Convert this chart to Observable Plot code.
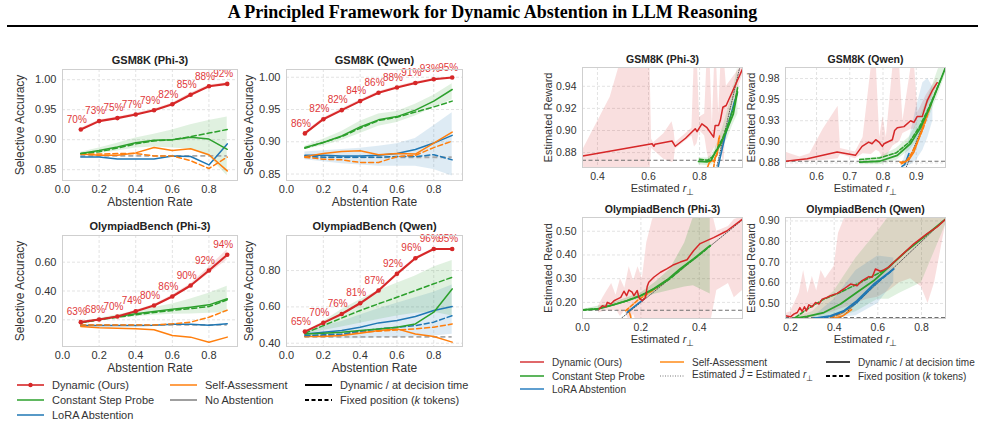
<!DOCTYPE html>
<html><head><meta charset="utf-8">
<script src="https://cdn.jsdelivr.net/npm/d3@7"></script>
<script src="https://cdn.jsdelivr.net/npm/@observablehq/plot@0.6"></script>
<style>
body{margin:0;background:#fff;width:985px;height:424px;overflow:hidden;position:relative;font-family:"Liberation Sans",Arial,sans-serif;}
#title{position:absolute;left:0;width:985px;top:2px;text-align:center;font-family:"Liberation Serif","Times New Roman",serif;font-weight:bold;font-size:18px;color:#000;}
#rule{position:absolute;left:7px;width:971px;top:25px;height:2px;background:#000;}
.panel{position:absolute;}
.leg{position:absolute;display:flex;align-items:center;white-space:nowrap;color:#333;}
.leg svg{margin-right:8px;}
</style></head><body>
<div id="title">A Principled Framework for Dynamic Abstention in LLM Reasoning</div>
<div id="rule"></div>
<div id="root"></div>
<script>
// ---------- shared ----------
const abst = [0.1,0.2,0.3,0.4,0.5,0.6,0.7,0.8,0.9];
const xTicksL = [0,0.2,0.4,0.6,0.8];

// ---------- Panel 1: GSM8K (Phi-3), selective accuracy ----------
const gpDyn = [0.917,0.931,0.936,0.942,0.949,0.959,0.975,0.989,0.993];
const gpDynLo = [0.915,0.929,0.934,0.940,0.947,0.957,0.972,0.987,0.991];
const gpDynHi = [0.919,0.933,0.938,0.944,0.951,0.961,0.978,0.991,0.995];
const gpLabels = ["70%","73%","75%","77%","79%","82%","85%","88%","92%"];
const gpCspDyn = [0.877,0.882,0.888,0.895,0.899,0.900,0.904,0.901,0.884];
const gpCspFix = [0.877,0.880,0.886,0.893,0.898,0.900,0.905,0.911,0.917];
const gpCspLo = [0.875,0.877,0.881,0.886,0.888,0.886,0.884,0.872,0.840];
const gpCspHi = [0.879,0.886,0.894,0.903,0.909,0.916,0.925,0.932,0.938];
const gpSaDyn = [0.876,0.874,0.874,0.878,0.887,0.882,0.885,0.875,0.848];
const gpSaFix = [0.876,0.876,0.877,0.877,0.873,0.873,0.865,0.852,0.871];
const gpLoraDyn = [0.871,0.871,0.868,0.868,0.868,0.873,0.872,0.858,0.893];
const gpNone = 0.873;

// ---------- Panel 2: GSM8K (Qwen) ----------
const gqDyn = [0.913,0.935,0.949,0.963,0.976,0.984,0.991,0.997,0.9995];
const gqDynLo = [0.911,0.933,0.947,0.961,0.974,0.982,0.989,0.996,0.999];
const gqDynHi = [0.915,0.937,0.951,0.965,0.978,0.986,0.993,0.998,1.0];
const gqLabels = ["86%","82%","82%","84%","86%","88%","91%","93%","95%"];
const gqCspDyn = [0.891,0.899,0.909,0.923,0.934,0.939,0.949,0.963,0.981];
const gqCspFix = [0.890,0.899,0.908,0.921,0.933,0.938,0.946,0.954,0.963];
const gqCspLo = [0.888,0.894,0.902,0.913,0.924,0.930,0.940,0.953,0.965];
const gqCspHi = [0.893,0.904,0.916,0.932,0.943,0.947,0.958,0.972,0.990];
const gqSaDyn = [0.877,0.882,0.885,0.886,0.880,0.882,0.881,0.898,0.915];
const gqSaFix = [0.876,0.873,0.872,0.868,0.868,0.877,0.879,0.891,0.901];
const gqLoraDyn = [0.879,0.879,0.878,0.878,0.879,0.882,0.888,0.898,0.910];
const gqLoraFix = [0.878,0.876,0.876,0.876,0.876,0.877,0.877,0.880,0.872];
const gqLoraLo = [0.872,0.869,0.866,0.864,0.862,0.862,0.862,0.857,0.847];
const gqLoraHi = [0.884,0.886,0.888,0.890,0.893,0.897,0.905,0.925,0.945];
const gqNone = 0.876;

// ---------- Panel 3: OlympiadBench (Phi-3) ----------
const opDyn = [0.184,0.202,0.223,0.260,0.299,0.362,0.438,0.542,0.651];
const opDynLo = [0.180,0.198,0.218,0.254,0.292,0.352,0.425,0.520,0.615];
const opDynHi = [0.188,0.206,0.228,0.266,0.306,0.372,0.451,0.564,0.687];
const opLabels = ["63%","68%","70%","74%","80%","86%","90%","92%","94%"];
const opCspDyn = [0.179,0.202,0.223,0.242,0.258,0.274,0.288,0.304,0.346];
const opCspFix = [0.179,0.200,0.218,0.235,0.251,0.265,0.278,0.292,0.339];
const opCspLo = [0.175,0.193,0.208,0.222,0.232,0.238,0.240,0.245,0.250];
const opCspHi = [0.184,0.210,0.236,0.258,0.285,0.310,0.345,0.385,0.433];
const opSaDyn = [0.154,0.145,0.142,0.138,0.131,0.091,0.080,0.045,0.080];
const opSaFix = [0.165,0.165,0.165,0.165,0.165,0.172,0.184,0.218,0.267];
const opLoraDyn = [0.161,0.161,0.161,0.161,0.162,0.170,0.170,0.163,0.172];
const opNone = 0.165;

// ---------- Panel 4: OlympiadBench (Qwen) ----------
const oqDyn = [0.464,0.512,0.561,0.620,0.690,0.782,0.868,0.919,0.919];
const oqDynLo = [0.461,0.509,0.558,0.616,0.686,0.777,0.863,0.916,0.916];
const oqDynHi = [0.467,0.515,0.564,0.624,0.694,0.787,0.873,0.922,0.922];
const oqLabels = ["65%","70%","76%","81%","87%","92%","96%","96%","95%"];
const oqCspDyn = [0.451,0.455,0.461,0.470,0.479,0.488,0.506,0.571,0.699];
const oqCspFix = [0.455,0.497,0.539,0.580,0.617,0.653,0.690,0.727,0.763];
const oqCspLo = [0.445,0.470,0.490,0.510,0.530,0.550,0.565,0.570,0.550];
const oqCspHi = [0.462,0.520,0.585,0.640,0.690,0.730,0.770,0.820,0.855];
const oqLoraDyn = [0.451,0.461,0.470,0.488,0.512,0.525,0.547,0.580,0.602];
const oqLoraFix = [0.442,0.446,0.451,0.466,0.479,0.488,0.497,0.516,0.552];
const oqLoraLo = [0.440,0.430,0.425,0.425,0.430,0.430,0.435,0.440,0.450];
const oqLoraHi = [0.462,0.495,0.520,0.555,0.590,0.620,0.650,0.680,0.720];
const oqSaDyn = [0.437,0.437,0.442,0.455,0.470,0.479,0.451,0.437,0.406];
const oqSaFix = [0.437,0.442,0.448,0.461,0.466,0.473,0.479,0.488,0.506];
const oqNone = 0.435;

// ---------- Panel 5: GSM8K (Phi-3), estimated reward vs r_perp ----------
const rgpDyn = [[0.342,0.877],[0.614,0.888],[0.621,0.8857],[0.625,0.8875],[0.692,0.8905],[0.705,0.8857],[0.745,0.893],[0.783,0.9016],[0.790,0.899],[0.809,0.906],[0.829,0.9025],[0.855,0.894],[0.861,0.9046],[0.874,0.9046],[0.881,0.909],[0.891,0.921],[0.904,0.9226],[0.968,0.9556]];
const rgpDynBand = [[0.342,0.872,0.882],[0.36,0.850,0.890],[0.45,0.850,0.930],[0.50,0.850,0.97],[0.58,0.850,0.97],[0.605,0.860,0.97],[0.612,0.884,0.892],[0.62,0.882,0.889],[0.66,0.874,0.897],[0.692,0.871,0.908],[0.70,0.872,0.900],[0.705,0.883,0.889],[0.77,0.895,0.902],[0.78,0.885,0.97],[0.79,0.888,0.97],[0.80,0.900,0.912],[0.82,0.895,0.915],[0.83,0.880,0.97],[0.84,0.870,0.97],[0.85,0.880,0.905],[0.86,0.885,0.97],[0.865,0.880,0.97],[0.875,0.895,0.915],[0.885,0.88,0.97],[0.895,0.87,0.97],[0.905,0.905,0.94],[0.968,0.950,0.96]];
const rgpCspDyn = [[0.796,0.872],[0.829,0.8716],[0.845,0.873],[0.861,0.880],[0.88,0.8866],[0.906,0.900],[0.932,0.915],[0.948,0.935]];
const rgpCspFix = [[0.80,0.874],[0.83,0.873],[0.85,0.876],[0.87,0.884],[0.89,0.893],[0.91,0.905],[0.935,0.922],[0.95,0.94]];
const rgpCspBand = [[0.796,0.869,0.875],[0.83,0.868,0.875],[0.85,0.869,0.878],[0.87,0.875,0.889],[0.89,0.885,0.902],[0.91,0.893,0.918],[0.93,0.905,0.935],[0.95,0.915,0.958]];
const rgpSaDyn = [[0.83,0.866],[0.838,0.871],[0.848,0.873],[0.856,0.872],[0.862,0.876],[0.868,0.878],[0.875,0.893]];
const rgpSaFix = [[0.855,0.866],[0.86,0.875],[0.87,0.880],[0.878,0.895]];
const rgpLoraDyn = [[0.872,0.866],[0.88,0.875],[0.90,0.895],[0.92,0.912],[0.935,0.925],[0.948,0.934]];
const rgpIdent = [0.866,0.957];
const rgpNone = 0.873;

// ---------- Panel 6: GSM8K (Qwen), estimated reward ----------
const rgqDyn = [[0.507,0.877],[0.572,0.880],[0.662,0.888],[0.717,0.884],[0.737,0.8946],[0.757,0.8997],[0.767,0.8977],[0.778,0.9025],[0.788,0.8997],[0.798,0.8946],[0.803,0.8977],[0.828,0.9025],[0.835,0.9134],[0.843,0.9166],[0.863,0.918],[0.883,0.925],[0.893,0.923],[0.903,0.930],[0.918,0.930],[0.933,0.9487],[0.948,0.9605],[0.963,0.970]];
const rgqDynBand = [[0.507,0.877,0.888],[0.52,0.876,0.886],[0.55,0.876,0.882],[0.58,0.877,0.886],[0.62,0.878,0.915],[0.665,0.880,0.942],[0.672,0.885,0.892],[0.717,0.880,0.888],[0.74,0.886,0.905],[0.765,0.885,0.99],[0.78,0.890,0.99],[0.79,0.888,0.905],[0.80,0.880,0.93],[0.81,0.882,0.905],[0.83,0.895,0.99],[0.85,0.900,0.99],[0.86,0.910,0.925],[0.885,0.915,0.99],[0.895,0.915,0.99],[0.905,0.925,0.935],[0.93,0.940,0.955],[0.963,0.965,0.975]];
const rgqCspDyn = [[0.73,0.876],[0.79,0.877],[0.843,0.884],[0.883,0.898],[0.913,0.917],[0.943,0.943],[0.988,0.988]];
const rgqCspFix = [[0.73,0.879],[0.79,0.881],[0.84,0.887],[0.88,0.900],[0.91,0.918],[0.94,0.942],[0.975,0.975]];
const rgqCspBand = [[0.73,0.873,0.880],[0.79,0.873,0.882],[0.84,0.878,0.892],[0.88,0.890,0.906],[0.91,0.905,0.928],[0.94,0.930,0.957],[0.97,0.960,0.99],[0.988,0.98,0.99]];
const rgqSaDyn = [[0.851,0.876],[0.865,0.876],[0.878,0.879],[0.893,0.888],[0.913,0.9095],[0.943,0.945]];
const rgqSaFix = [[0.855,0.874],[0.87,0.877],[0.885,0.886],[0.90,0.897],[0.92,0.915],[0.945,0.945]];
const rgqLoraDyn = [[0.857,0.871],[0.865,0.873],[0.872,0.880],[0.878,0.886]];
const rgqLoraBand = [[0.86,0.870,0.875],[0.88,0.872,0.905],[0.90,0.878,0.94],[0.92,0.89,0.97],[0.935,0.905,0.975],[0.95,0.925,0.965]];
const rgqIdent = [0.87,0.988];
const rgqNone = 0.877;
const rgqYTicks = [0.875,0.9,0.925,0.95,0.975];
const rgqYLabels = ["0.88","0.90","0.93","0.95","0.98"];

// ---------- Panel 7: OlympiadBench (Phi-3), estimated reward ----------
const ropDyn = [[0.057,0.172],[0.068,0.186],[0.0795,0.182],[0.085,0.200],[0.097,0.193],[0.108,0.207],[0.119,0.214],[0.131,0.221],[0.142,0.247],[0.151,0.228],[0.159,0.252],[0.170,0.243],[0.176,0.228],[0.1875,0.250],[0.193,0.221],[0.2045,0.207],[0.216,0.221],[0.2216,0.267],[0.227,0.285],[0.244,0.306],[0.267,0.327],[0.290,0.342],[0.3125,0.359],[0.335,0.370],[0.358,0.380],[0.381,0.419],[0.403,0.448],[0.449,0.473],[0.494,0.501],[0.548,0.551]];
const ropDynBand = [[0.055,0.155,0.185],[0.07,0.160,0.22],[0.085,0.165,0.25],[0.10,0.160,0.28],[0.115,0.170,0.23],[0.13,0.140,0.30],[0.145,0.165,0.26],[0.16,0.12,0.35],[0.175,0.15,0.29],[0.19,0.10,0.35],[0.205,0.12,0.30],[0.22,0.10,0.45],[0.24,0.10,0.55],[0.27,0.10,0.60],[0.30,0.10,0.60],[0.35,0.10,0.60],[0.40,0.10,0.60],[0.44,0.12,0.60],[0.46,0.25,0.50],[0.50,0.28,0.52],[0.52,0.22,0.55],[0.548,0.25,0.56]];
const ropCspDyn = [[0,0.168],[0.051,0.172],[0.108,0.19],[0.153,0.207],[0.199,0.228],[0.244,0.257],[0.29,0.295],[0.335,0.342],[0.381,0.384],[0.4375,0.44]];
const ropCspFix = [[0,0.168],[0.05,0.173],[0.1,0.188],[0.15,0.206],[0.2,0.229],[0.25,0.26],[0.3,0.30],[0.35,0.352],[0.4,0.40],[0.4375,0.438]];
const ropCspBand = [[0,0.166,0.170],[0.1,0.185,0.196],[0.2,0.215,0.24],[0.25,0.235,0.285],[0.3,0.25,0.34],[0.35,0.265,0.45],[0.38,0.27,0.56],[0.4375,0.235,0.56]];
const ropSaDyn = [[0.155,0.168],[0.16,0.160],[0.165,0.14],[0.168,0.12]];
const ropSaFix = [[0.148,0.165],[0.19,0.21],[0.24,0.25],[0.29,0.295]];
const ropLoraDyn = [[0.153,0.158],[0.175,0.18],[0.21,0.214]];
const ropIdent = [0.13,0.55];
const ropNone = 0.167;

// ---------- Panel 8: OlympiadBench (Qwen), estimated reward ----------
const roqDyn = [[0.177,0.440],[0.200,0.435],[0.215,0.448],[0.231,0.456],[0.243,0.480],[0.253,0.461],[0.264,0.484],[0.273,0.464],[0.284,0.493],[0.299,0.484],[0.3145,0.505],[0.330,0.497],[0.345,0.521],[0.360,0.526],[0.383,0.537],[0.414,0.549],[0.444,0.570],[0.475,0.594],[0.505,0.586],[0.528,0.611],[0.559,0.630],[0.574,0.627],[0.589,0.667],[0.612,0.656],[0.627,0.663],[0.650,0.676],[0.673,0.700],[0.719,0.744],[0.765,0.789],[0.826,0.838],[0.872,0.871],[0.910,0.908]];
const roqDynBand = [[0.177,0.43,0.45],[0.20,0.43,0.46],[0.24,0.43,0.55],[0.26,0.43,0.66],[0.28,0.43,0.55],[0.30,0.43,0.63],[0.32,0.44,0.56],[0.34,0.44,0.66],[0.36,0.45,0.62],[0.40,0.46,0.68],[0.42,0.47,0.84],[0.45,0.48,0.92],[0.50,0.50,0.92],[0.55,0.52,0.92],[0.60,0.53,0.92],[0.65,0.56,0.92],[0.70,0.60,0.92],[0.75,0.62,0.92],[0.80,0.58,0.92],[0.83,0.50,0.92],[0.86,0.60,0.92],[0.91,0.88,0.92]];
const roqCspDyn = [[0.215,0.428],[0.276,0.437],[0.353,0.456],[0.429,0.497],[0.505,0.554],[0.582,0.611],[0.658,0.684],[0.734,0.757],[0.811,0.822],[0.910,0.908]];
const roqCspFix = [[0.223,0.432],[0.276,0.472],[0.353,0.521],[0.429,0.554],[0.505,0.594],[0.582,0.635],[0.627,0.659]];
const roqCspBand = [[0.215,0.425,0.432],[0.3,0.425,0.46],[0.4,0.43,0.56],[0.5,0.46,0.72],[0.6,0.52,0.85],[0.65,0.52,0.92],[0.7,0.55,0.92],[0.8,0.60,0.92],[0.91,0.88,0.92]];
const roqLoraDyn = [[0.307,0.428],[0.383,0.44],[0.444,0.464],[0.505,0.513],[0.582,0.594],[0.673,0.667]];
const roqLoraFix = [[0.30,0.427],[0.38,0.435],[0.44,0.458],[0.50,0.500],[0.58,0.585],[0.66,0.655]];
const roqLoraBand = [[0.30,0.425,0.432],[0.4,0.43,0.52],[0.5,0.44,0.66],[0.6,0.50,0.73],[0.673,0.60,0.72]];
const roqSaDyn = [[0.40,0.428],[0.44,0.44],[0.48,0.47]];
const roqSaFix = [[0.383,0.432],[0.429,0.448],[0.475,0.48],[0.505,0.513]];
const roqIdent = [0.43,0.91];
const roqNone = 0.432;

// ---------- legend labels ----------
const legLeftLabels = ["Dynamic (Ours)","Constant Step Probe","LoRA Abstention","Self-Assessment","No Abstention","Dynamic / at decision time","Fixed position (<i>k</i> tokens)"];
const legRightLabels = ["Dynamic (Ours)","Constant Step Probe","LoRA Abstention","Self-Assessment","Estimated <i>Ĵ</i> = Estimated <i>r</i><sub style='font-size:8px'>⊥</sub>","Dynamic / at decision time","Fixed position (<i>k</i> tokens)"];

// ---------- styling ----------
const C = {red:"#d62728", green:"#2ca02c", orange:"#ff7f0e", blue:"#1f77b4", gray:"#7f7f7f"};
const gridCol = "#e3e3e3", frameCol = "#cfcfcf", txt = "#333";
const FONT = "'Liberation Sans', Arial, sans-serif";
const root = document.getElementById("root");

function place(svg, left, top) {
  const d = document.createElement("div");
  d.className = "panel"; d.style.left = left + "px"; d.style.top = top + "px";
  d.appendChild(svg); root.appendChild(d);
}
const tidy = (xs, ys) => xs.map((x, i) => ({x, y: ys[i]}));
const band = (xs, lo, hi) => xs.map((x, i) => ({x, lo: lo[i], hi: hi[i]}));

function leftPanel(o) {
  const marks = [
    Plot.gridX(xTicksL, {stroke: gridCol, strokeOpacity: 1, strokeDasharray: "3,2"}),
    Plot.gridY(o.yTicks, {stroke: gridCol, strokeOpacity: 1, strokeDasharray: "3,2"})
  ];
  for (const b of o.bands)
    marks.push(Plot.areaY(band(abst, b.lo, b.hi), {x: "x", y1: "lo", y2: "hi", fill: b.color, fillOpacity: 0.15, clip: true}));
  marks.push(Plot.ruleY([o.none], {x1: abst[0], x2: abst[abst.length - 1], stroke: "#a8a8a8", strokeWidth: 1.8, strokeDasharray: "5,3"}));
  for (const s of o.series)
    marks.push(Plot.line(tidy(abst, s.y), {x: "x", y: "y", stroke: s.color, strokeWidth: 1.5, strokeDasharray: s.dash ? "5,3" : undefined, clip: true}));
  const dyn = tidy(abst, o.dyn).map((d, i) => ({...d, t: o.labels[i]}));
  marks.push(Plot.line(dyn, {x: "x", y: "y", stroke: C.red, strokeWidth: 2.1}));
  marks.push(Plot.dot(dyn, {x: "x", y: "y", fill: C.red, r: 2.3}));
  marks.push(Plot.text(dyn, {x: "x", y: "y", text: "t", dx: -4, dy: -10, fill: "#e0383a", fontSize: 10}));
  marks.push(Plot.frame({stroke: frameCol}));
  marks.push(Plot.axisX(xTicksL, {tickSize: 0, tickPadding: 5, tickFormat: d3.format(".1f"), label: null, fontSize: 11}));
  marks.push(Plot.axisY(o.yTicks, {tickSize: 0, tickPadding: 6, tickFormat: d3.format(".2f"), label: null, fontSize: 11}));
  marks.push(Plot.text([o.title], {frameAnchor: "top", dy: -13, fontWeight: "bold", fontSize: 11, fill: "#222"}));
  marks.push(Plot.text(["Abstention Rate"], {frameAnchor: "bottom", dy: 25, fontSize: 12, fill: txt}));
  marks.push(Plot.text(["Selective Accuracy"], {frameAnchor: "left", dx: o.ylabDx, rotate: -90, textAnchor: "middle", fontSize: 12, fill: txt}));
  const svg = Plot.plot({
    width: o.w, height: o.h, marginLeft: o.ml, marginRight: o.mr, marginTop: o.mt, marginBottom: o.mb,
    x: {domain: [0, 0.956]}, y: {domain: o.yDomain},
    style: {fontFamily: FONT, color: txt, background: "transparent", overflow: "visible"},
    marks
  });
  place(svg, o.left, o.top);
}

function rightPanel(o) {
  const P = d => d[0], Q = d => d[1], R = d => d[2];
  const marks = [
    Plot.gridX(o.xTicks, {stroke: gridCol, strokeOpacity: 1, strokeDasharray: "3,2"}),
    Plot.gridY(o.yTicks, {stroke: gridCol, strokeOpacity: 1, strokeDasharray: "3,2"})
  ];
  for (const b of o.bands)
    marks.push(Plot.areaY(b.data, {x: P, y1: Q, y2: R, fill: b.color, fillOpacity: b.op || 0.15, clip: true}));
  marks.push(Plot.ruleY([o.none], {stroke: "#6f6f6f", strokeWidth: 1.1, strokeDasharray: "4,2.5"}));
  marks.push(Plot.line(o.ident, {x: d => d, y: d => d, stroke: "#444", strokeWidth: 0.9, strokeDasharray: "1,1.5", clip: true}));
  for (const s of o.series)
    marks.push(Plot.line(s.data, {x: P, y: Q, stroke: s.color, strokeWidth: s.w || 1.6, strokeDasharray: s.dash ? "4,2" : undefined, clip: true}));
  marks.push(Plot.line(o.dyn, {x: P, y: Q, stroke: C.red, strokeWidth: 1.5, clip: true}));
  marks.push(Plot.frame({stroke: frameCol}));
  marks.push(Plot.axisX(o.xTicks, {tickSize: 0, tickPadding: 5, tickFormat: d3.format(".1f"), label: null, fontSize: 10.5}));
  marks.push(Plot.axisY(o.yTicks, {tickSize: 0, tickPadding: 6, tickFormat: o.yFmt || d3.format(".2f"), label: null, fontSize: 10.5}));
  marks.push(Plot.text([o.title], {frameAnchor: "top", dy: -12, fontWeight: "bold", fontSize: 10.5, fill: "#222"}));
  marks.push(Plot.text(["Estimated r⊥"], {frameAnchor: "bottom", dy: 24, fontSize: 11, fill: txt}));
  marks.push(Plot.text(["Estimated Reward"], {frameAnchor: "left", dx: -34, rotate: -90, textAnchor: "middle", fontSize: 11, fill: txt}));
  const svg = Plot.plot({
    width: o.w, height: o.h, marginLeft: o.ml, marginRight: o.mr, marginTop: o.mt, marginBottom: o.mb,
    x: {domain: o.xDomain}, y: {domain: o.yDomain},
    style: {fontFamily: FONT, color: txt, background: "transparent", overflow: "visible"},
    marks
  });
  svg.querySelectorAll("text").forEach(t => {
    if (t.textContent === "Estimated r⊥") {
      t.innerHTML = 'Estimated <tspan font-style="italic">r</tspan><tspan dy="3" font-size="9">⊥</tspan>';
    }
  });
  place(svg, o.left, o.top);
}

// ---------- left group ----------
leftPanel({left: 0, top: 40, w: 245, h: 180, ml: 62, mr: 8, mt: 29, mb: 40, ylabDx: -42,
  title: "GSM8K (Phi-3)", yDomain: [0.832, 1.017], yTicks: [0.85, 0.90, 0.95, 1.00],
  dyn: gpDyn, labels: gpLabels, none: gpNone,
  bands: [{lo: gpCspLo, hi: gpCspHi, color: C.green}, {lo: gpDynLo, hi: gpDynHi, color: C.red}],
  series: [{y: gpLoraDyn, color: C.blue}, {y: gpSaDyn, color: C.orange}, {y: gpSaFix, color: C.orange, dash: 1},
           {y: gpCspFix, color: C.green, dash: 1}, {y: gpCspDyn, color: C.green}]});
leftPanel({left: 245, top: 40, w: 230, h: 180, ml: 41, mr: 13, mt: 29, mb: 40, ylabDx: -37,
  title: "GSM8K (Qwen)", yDomain: [0.84, 1.012], yTicks: [0.85, 0.90, 0.95, 1.00],
  dyn: gqDyn, labels: gqLabels, none: gqNone,
  bands: [{lo: gqLoraLo, hi: gqLoraHi, color: C.blue}, {lo: gqCspLo, hi: gqCspHi, color: C.green}, {lo: gqDynLo, hi: gqDynHi, color: C.red}],
  series: [{y: gqLoraFix, color: C.blue, dash: 1}, {y: gqLoraDyn, color: C.blue}, {y: gqSaFix, color: C.orange, dash: 1}, {y: gqSaDyn, color: C.orange},
           {y: gqCspFix, color: C.green, dash: 1}, {y: gqCspDyn, color: C.green}]});
leftPanel({left: 0, top: 206, w: 245, h: 174, ml: 62, mr: 8, mt: 29, mb: 34, ylabDx: -42,
  title: "OlympiadBench (Phi-3)", yDomain: [0.015, 0.785], yTicks: [0.20, 0.40, 0.60],
  dyn: opDyn, labels: opLabels, none: opNone,
  bands: [{lo: opCspLo, hi: opCspHi, color: C.green}, {lo: opDynLo, hi: opDynHi, color: C.red}],
  series: [{y: opLoraDyn, color: C.blue}, {y: opSaDyn, color: C.orange}, {y: opSaFix, color: C.orange, dash: 1},
           {y: opCspFix, color: C.green, dash: 1}, {y: opCspDyn, color: C.green}]});
leftPanel({left: 245, top: 206, w: 230, h: 174, ml: 41, mr: 13, mt: 29, mb: 34, ylabDx: -37,
  title: "OlympiadBench (Qwen)", yDomain: [0.382, 0.993], yTicks: [0.40, 0.60, 0.80],
  dyn: oqDyn, labels: oqLabels, none: oqNone,
  bands: [{lo: oqLoraLo, hi: oqLoraHi, color: C.blue}, {lo: oqCspLo, hi: oqCspHi, color: C.green}, {lo: oqDynLo, hi: oqDynHi, color: C.red}],
  series: [{y: oqSaDyn, color: C.orange}, {y: oqSaFix, color: C.orange, dash: 1}, {y: oqLoraFix, color: C.blue, dash: 1}, {y: oqLoraDyn, color: C.blue},
           {y: oqCspDyn, color: C.green}, {y: oqCspFix, color: C.green, dash: 1}]});

// ---------- right group ----------
rightPanel({left: 500, top: 40, w: 250, h: 160, ml: 82, mr: 8, mt: 27, mb: 33,
  title: "GSM8K (Phi-3)", xDomain: [0.3415, 0.968], yDomain: [0.8665, 0.957],
  xTicks: [0.4, 0.6, 0.8], yTicks: [0.88, 0.90, 0.92, 0.94], none: rgpNone, ident: rgpIdent, dyn: rgpDyn,
  bands: [{data: rgpDynBand, color: C.red}, {data: rgpCspBand, color: C.green}],
  series: [{data: rgpSaFix, color: C.orange, dash: 1}, {data: rgpSaDyn, color: C.orange}, {data: rgpLoraDyn, color: C.blue},
           {data: rgpCspFix, color: C.green, dash: 1}, {data: rgpCspDyn, color: C.green, w: 1.8}]});
rightPanel({left: 750, top: 40, w: 235, h: 160, ml: 35, mr: 40, mt: 27, mb: 33,
  title: "GSM8K (Qwen)", xDomain: [0.5066, 0.988], yDomain: [0.8696, 0.988],
  xTicks: [0.6, 0.7, 0.8, 0.9], yTicks: rgqYTicks, yFmt: d => rgqYLabels[rgqYTicks.indexOf(d)],
  none: rgqNone, ident: rgqIdent, dyn: rgqDyn,
  bands: [{data: rgqDynBand, color: C.red}, {data: rgqLoraBand, color: C.blue}, {data: rgqCspBand, color: C.green}],
  series: [{data: rgqLoraDyn, color: C.blue}, {data: rgqSaFix, color: C.orange, dash: 1}, {data: rgqSaDyn, color: C.orange},
           {data: rgqCspFix, color: C.green, dash: 1}, {data: rgqCspDyn, color: C.green, w: 1.8}]});
rightPanel({left: 500, top: 195, w: 250, h: 155, ml: 82, mr: 8, mt: 22, mb: 32,
  title: "OlympiadBench (Phi-3)", xDomain: [0, 0.548], yDomain: [0.132, 0.558],
  xTicks: [0, 0.2, 0.4], yTicks: [0.2, 0.3, 0.4, 0.5], none: ropNone, ident: ropIdent, dyn: ropDyn,
  bands: [{data: ropDynBand, color: C.red}, {data: ropCspBand, color: C.green, op: 0.2}],
  series: [{data: ropSaDyn, color: C.orange}, {data: ropSaFix, color: C.orange, dash: 1}, {data: ropLoraDyn, color: C.blue},
           {data: ropCspFix, color: C.green, dash: 1}, {data: ropCspDyn, color: C.green, w: 1.8}]});
rightPanel({left: 750, top: 195, w: 235, h: 155, ml: 35, mr: 40, mt: 22, mb: 32,
  title: "OlympiadBench (Qwen)", xDomain: [0.177, 0.91], yDomain: [0.427, 0.9166],
  xTicks: [0.2, 0.4, 0.6, 0.8], yTicks: [0.5, 0.6, 0.7, 0.8, 0.9], none: roqNone, ident: roqIdent, dyn: roqDyn,
  bands: [{data: roqDynBand, color: C.red}, {data: roqCspBand, color: C.green}, {data: roqLoraBand, color: C.blue}],
  series: [{data: roqSaDyn, color: C.orange}, {data: roqSaFix, color: C.orange, dash: 1}, {data: roqLoraFix, color: C.blue, dash: 1},
           {data: roqLoraDyn, color: C.blue, w: 1.8}, {data: roqCspFix, color: C.green, dash: 1}, {data: roqCspDyn, color: C.green, w: 1.8}]});

// ---------- legends ----------
function swatch(color, dash, w, dot, len) {
  const L = len || 27;
  return `<svg width="${L}" height="10"><line x1="0" y1="5" x2="${L}" y2="5" stroke="${color}" stroke-width="${w}" ${dash ? `stroke-dasharray="${dash}"` : ""}/>${dot ? `<circle cx="${L/2}" cy="5" r="2.2" fill="${color}"/>` : ""}</svg>`;
}
function legItem(x, y, sw, label, fs) {
  const d = document.createElement("div");
  d.className = "leg"; d.style.left = x + "px"; d.style.top = (y - 7) + "px"; d.style.fontSize = fs + "px"; d.style.height = "14px";
  d.innerHTML = sw + `<span>${label}</span>`;
  root.appendChild(d);
}
const leftSw = [swatch(C.red,0,1.6,1), swatch(C.green,0,1.5), swatch(C.blue,0,1.5), swatch(C.orange,0,1.5), swatch(C.gray,0,1.5), swatch("#000",0,2), swatch("#000","4,2.5",2)];
const leftPos = [[17,385],[17,400],[17,415],[170,385],[170,400],[305,385],[305,400]];
leftPos.forEach((p, i) => legItem(p[0], p[1], leftSw[i], legLeftLabels[i], 11));
const rightSw = [swatch("#e0686a",0,2,0,24), swatch("#5db55d",0,2,0,24), swatch("#5f9fd0",0,2,0,24), swatch("#ffa852",0,2,0,24), swatch("#777","1,1.5",1,0,24), swatch("#444",0,2,0,24), swatch("#000","4,2.5",1.8,0,24)];
const rightPos = [[520,362],[520,376],[520,389],[660,362],[660,376],[826,362],[826,376]];
rightPos.forEach((p, i) => legItem(p[0], p[1], rightSw[i], legRightLabels[i], 10));
</script>
</body></html>
